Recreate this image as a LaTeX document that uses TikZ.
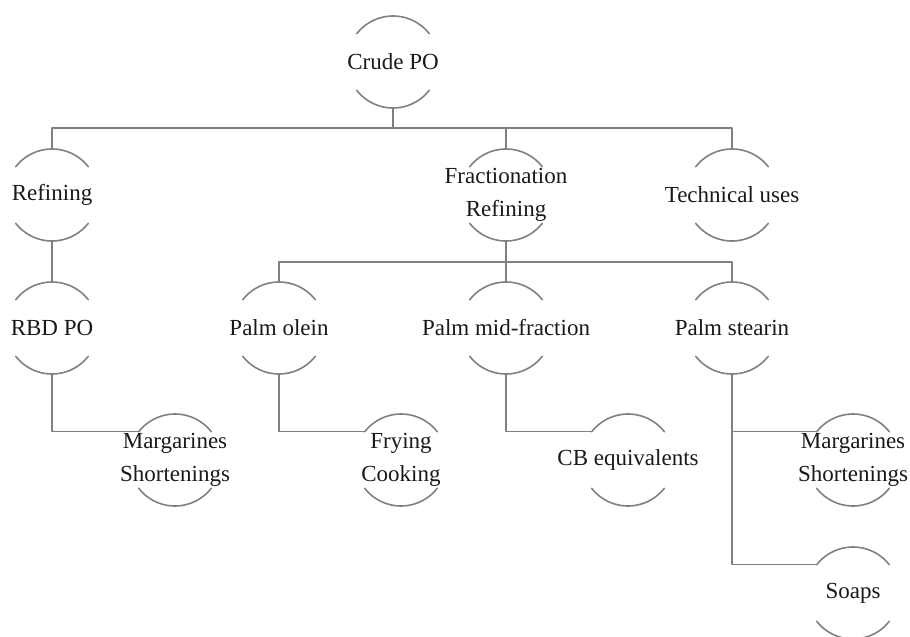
\documentclass[tikz,border=0pt]{standalone}
\usepackage{fontspec}
\setmainfont{Liberation Serif}
\usepackage{tikz}

\begin{document}
\begin{tikzpicture}[x=0.5pt, y=-0.5pt,
                    line cap=round, line join=round,
                    stage/.style={inner sep=0pt, align=center, text=black!90,
                                  font=\fontsize{11.5}{16.5}\selectfont},
                    link/.style={gray, line width=0.8pt},
                    rim/.style={gray, line width=0.8pt}]
  \useasboundingbox (0,0) rectangle (910,637);
  \def\R{23pt}

  % stages
  \node[stage] (crude)     at (393,62)  {Crude PO};
  \node[stage] (refining)  at (52,195)  {Refining};
  \node[stage] (fraction)  at (506,195) {Fractionation\\Refining};
  \node[stage] (technical) at (732,195) {Technical uses};
  \node[stage] (rbd)       at (52,328)  {RBD PO};
  \node[stage] (olein)     at (279,328) {Palm olein};
  \node[stage] (midfrac)   at (506,328) {Palm mid-fraction};
  \node[stage] (stearin)   at (732,328) {Palm stearin};
  \node[stage] (margL)     at (175,460) {Margarines\\Shortenings};
  \node[stage] (frying)    at (401,460) {Frying\\Cooking};
  \node[stage] (cbeq)      at (628,460) {CB equivalents};
  \node[stage] (margR)     at (853,460) {Margarines\\Shortenings};
  \node[stage] (soaps)     at (853,593) {Soaps};

  % upper and lower arcs of each stage, plus their ends
  \foreach \n in {crude,refining,fraction,technical,rbd,olein,midfrac,stearin,
                  margL,frying,cbeq,margR,soaps}{
    \draw[rim] (\n.center) ++(38:\R)  arc[start angle=38,  end angle=142, radius=\R];
    \draw[rim] (\n.center) ++(218:\R) arc[start angle=218, end angle=322, radius=\R];
    \path (\n.center) ++(90:\R)  coordinate (\n-top);
    \path (\n.center) ++(-90:\R) coordinate (\n-bot);
    \path (\n.center) ++(142:\R) coordinate (\n-in);
  }

  % bus lines
  \coordinate (topbus) at (393,128);
  \coordinate (midbus) at (506,262);

  \draw[link] (crude-bot) -- (topbus);
  \draw[link] (refining-top) |- (topbus) -| (technical-top);
  \draw[link] (fraction-top) -- (fraction-top |- topbus);

  \draw[link] (fraction-bot) -- (midbus);
  \draw[link] (olein-top) |- (midbus) -| (stearin-top);
  \draw[link] (midfrac-top) -- (midfrac-top |- midbus);

  \draw[link] (refining-bot) -- (rbd-top);

  % products
  \draw[link] (rbd-bot) |- (margL-in);
  \draw[link] (olein-bot) |- (frying-in);
  \draw[link] (midfrac-bot) |- (cbeq-in);
  \draw[link] (stearin-bot) |- (soaps-in);
  \draw[link] (stearin-bot |- margR-in) -- (margR-in);
\end{tikzpicture}
\end{document}
